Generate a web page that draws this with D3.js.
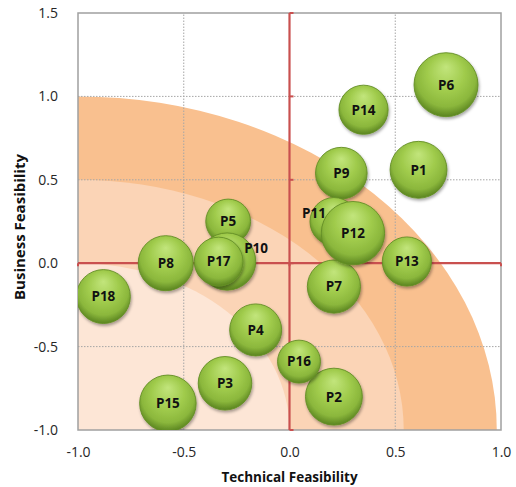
<!DOCTYPE html>
<html>
<head>
<meta charset="utf-8">
<script src="https://cdn.jsdelivr.net/npm/d3@7"></script>
<style>
  html, body { margin: 0; padding: 0; background: #fff; }
  svg { display: block; }
</style>
</head>
<body>
<div id="chart"></div>
<script>
// ---- data ----
const projects = ["P1","P2","P3","P4","P5","P6","P7","P8","P9","P10","P11","P12","P13","P14","P15","P16","P17","P18"];
const technical = [0.61, 0.21, -0.305, -0.16, -0.29, 0.74, 0.21, -0.585, 0.245, -0.295, 0.21, 0.30, 0.555, 0.35, -0.575, 0.045, -0.335, -0.88];
const business  = [0.56, -0.80, -0.72, -0.40, 0.25, 1.07, -0.14, 0.00, 0.54, 0.01, 0.25, 0.18, 0.01, 0.92, -0.84, -0.59, 0.01, -0.20];
const sizes     = [79, 79, 70, 66, 49, 100, 69, 74, 65, 80, 56, 98, 59, 59, 78, 45, 58, 71];
const xTicks = [-1.0, -0.5, 0.0, 0.5, 1.0];
const yTicks = [-1.0, -0.5, 0.0, 0.5, 1.0, 1.5];
// feasibility zones: quarter ellipses anchored at (-1,-1), radii in data units
const zoneRx = [1.98, 1.54, 1.0];
const zoneRy = [2.0, 1.5, 1.0];
const zoneColors = ["#F9C08F", "#FBD4B6", "#FDE6D6"];
// label offsets for overlapping bubbles (px)
const labelShift = { "P10": [29, -13], "P11": [-20, -8] };

const W = 516, H = 487;
const M = { left: 78, right: 15, top: 13, bottom: 57 };
const svg = d3.select("#chart").append("svg").attr("width", W).attr("height", H);

const x = d3.scaleLinear().domain([-1, 1]).range([M.left, W - M.right]);
const y = d3.scaleLinear().domain([-1, 1.5]).range([H - M.bottom, M.top]);
const r = d3.scaleSqrt().domain([0, 100]).range([0, 32]);

const defs = svg.append("defs");
defs.append("clipPath").attr("id", "plotclip").append("rect")
  .attr("x", x(-1)).attr("y", y(1.5)).attr("width", x(1) - x(-1)).attr("height", y(-1) - y(1.5));
const grad = defs.append("radialGradient").attr("id", "ball")
  .attr("cx", "50%").attr("cy", "42%").attr("r", "58%").attr("fx", "50%").attr("fy", "22%");
grad.append("stop").attr("offset", "0%").attr("stop-color", "#C2E57C");
grad.append("stop").attr("offset", "50%").attr("stop-color", "#A0CB4C");
grad.append("stop").attr("offset", "80%").attr("stop-color", "#8BB73C");
grad.append("stop").attr("offset", "100%").attr("stop-color", "#5A8420");
const sh = defs.append("filter").attr("id", "shadow").attr("x", "-30%").attr("y", "-30%").attr("width", "160%").attr("height", "160%");
sh.append("feDropShadow").attr("dx", 1).attr("dy", 2).attr("stdDeviation", 1.8)
  .attr("flood-color", "#000").attr("flood-opacity", 0.35);

const plot = svg.append("g").attr("clip-path", "url(#plotclip)");

// zones
const cx0 = x(-1), cy0 = y(-1);
plot.selectAll("path.zone").data(zoneRx).join("path").attr("class", "zone")
  .attr("fill", (d, i) => zoneColors[i])
  .attr("d", (d, i) => {
    const rx = x(-1 + zoneRx[i]) - x(-1);
    const ry = y(-1) - y(-1 + zoneRy[i]);
    return `M${cx0},${cy0} L${cx0},${cy0 - ry} A${rx},${ry} 0 0 1 ${cx0 + rx},${cy0} Z`;
  });

// gridlines
plot.selectAll("line.gx").data(xTicks.filter(t => t !== 0 && Math.abs(t) !== 1)).join("line")
  .attr("x1", d => x(d)).attr("x2", d => x(d)).attr("y1", y(-1)).attr("y2", y(1.5))
  .attr("stroke", "#A6A6A6").attr("stroke-width", 1).attr("stroke-dasharray", "1.5,1.5");
plot.selectAll("line.gy").data(yTicks.filter(t => t !== 0 && t !== -1 && t !== 1.5)).join("line")
  .attr("y1", d => y(d)).attr("y2", d => y(d)).attr("x1", x(-1)).attr("x2", x(1))
  .attr("stroke", "#A6A6A6").attr("stroke-width", 1).attr("stroke-dasharray", "1.5,1.5");

// plot border
svg.append("rect").attr("x", x(-1)).attr("y", y(1.5)).attr("width", x(1) - x(-1)).attr("height", y(-1) - y(1.5))
  .attr("fill", "none").attr("stroke", "#A0A0A0").attr("stroke-width", 1.5);

// red zero axes
const red = "#C9504F";
svg.append("line").attr("x1", x(0)).attr("x2", x(0)).attr("y1", y(1.5)).attr("y2", y(-1))
  .attr("stroke", red).attr("stroke-width", 2.2);
svg.append("line").attr("x1", x(-1)).attr("x2", x(1)).attr("y1", y(0)).attr("y2", y(0))
  .attr("stroke", red).attr("stroke-width", 2.2);
svg.selectAll("line.ty").data(yTicks).join("line")
  .attr("x1", x(0)).attr("x2", x(0) + 4).attr("y1", d => y(d)).attr("y2", d => y(d))
  .attr("stroke", red).attr("stroke-width", 2);
svg.selectAll("line.tx").data(xTicks).join("line")
  .attr("y1", y(0)).attr("y2", y(0) + 3).attr("x1", d => x(d)).attr("x2", d => x(d))
  .attr("stroke", red).attr("stroke-width", 2);

// axes tick labels (ASCII hyphen-minus as in the original)
const fmt = d => d3.format(".1f")(d).replace("\u2212", "-");
const xAxis = svg.append("g").attr("transform", `translate(0,${y(-1) + 14})`)
  .call(d3.axisBottom(x).tickValues(xTicks).tickFormat(fmt).tickSize(0));
const yAxis = svg.append("g").attr("transform", `translate(${x(-1) - 17},0)`)
  .call(d3.axisLeft(y).tickValues(yTicks).tickFormat(fmt).tickSize(0));
[xAxis, yAxis].forEach(a => {
  a.select(".domain").remove();
  a.selectAll("text").attr("font-family", "'Open Sans', sans-serif").attr("font-size", 14).attr("fill", "#262626");
});

// axis titles
svg.append("text").attr("x", (x(-1) + x(1)) / 2 + 0).attr("y", 482)
  .attr("text-anchor", "middle").attr("font-family", "'Open Sans', sans-serif").attr("font-weight", "bold")
  .attr("font-size", 13.5).attr("fill", "#111").text("Technical Feasibility");
svg.append("text").attr("transform", `translate(25,227) rotate(-90)`)
  .attr("text-anchor", "middle").attr("font-family", "'Open Sans', sans-serif").attr("font-weight", "bold")
  .attr("font-size", 15).attr("fill", "#111").text("Business Feasibility");

// bubbles
const data = projects.map((p, i) => ({ name: p, tx: technical[i], bz: business[i], s: sizes[i] }));
const bub = svg.append("g").attr("clip-path", "url(#plotclip)");
bub.selectAll("circle").data(data).join("circle")
  .attr("cx", d => x(d.tx)).attr("cy", d => y(d.bz)).attr("r", d => r(d.s))
  .attr("fill", "url(#ball)").attr("stroke", "#648F26").attr("stroke-width", 0.9)
  .attr("filter", "url(#shadow)");

// labels
svg.append("g").selectAll("text").data(data).join("text")
  .attr("x", d => x(d.tx) + (labelShift[d.name] ? labelShift[d.name][0] : 0))
  .attr("y", d => y(d.bz) + (labelShift[d.name] ? labelShift[d.name][1] : 0))
  .attr("dy", "0.36em").attr("text-anchor", "middle")
  .attr("font-family", "'Open Sans', sans-serif").attr("font-weight", "bold").attr("font-size", 13.5)
  .attr("fill", "#111").text(d => d.name);
</script>
</body>
</html>
